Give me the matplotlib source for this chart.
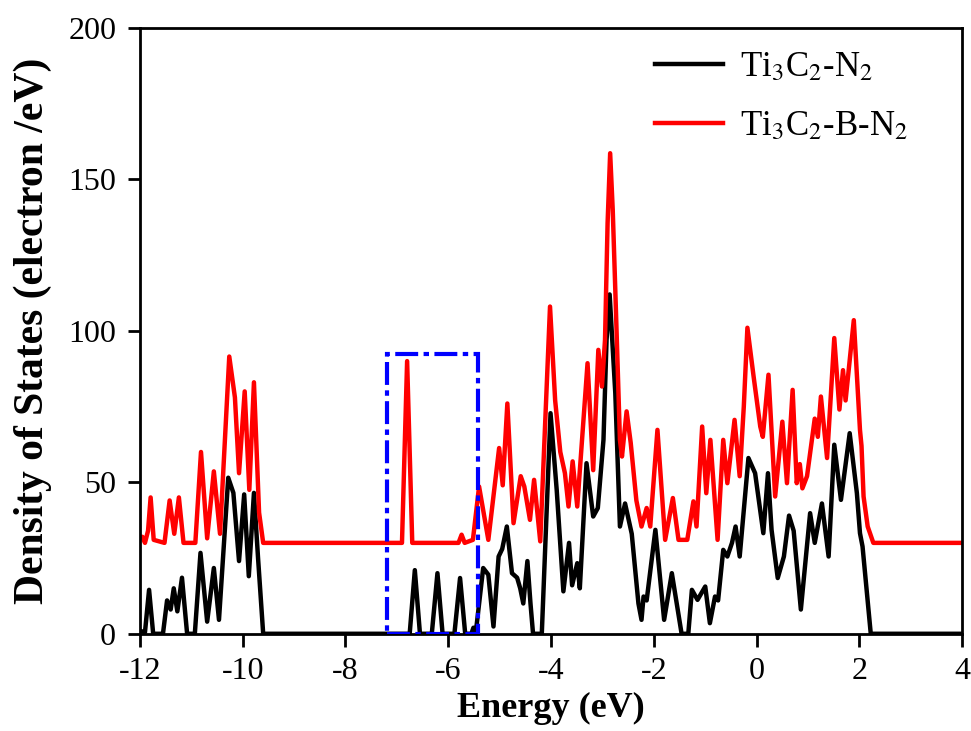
import matplotlib
matplotlib.use("Agg")
import matplotlib.pyplot as plt
from matplotlib.patches import Rectangle

# Ti3C2-N2 (black)
energy_n2 = [-12.0, -11.90, -11.82, -11.74, -11.55, -11.47, -11.40, -11.34, -11.27, -11.18,
             -11.08, -10.93, -10.82, -10.69, -10.56, -10.46, -10.28, -10.18, -10.07, -9.97,
             -9.88, -9.78, -9.70, -9.60, -6.75, -6.65, -6.55, -6.32, -6.21, -6.11,
             -5.88, -5.77, -5.67, -5.55, -5.51, -5.46, -5.32, -5.22, -5.12, -5.02,
             -4.95, -4.86, -4.76, -4.66, -4.60, -4.54, -4.46, -4.40, -4.35, -4.18,
             -4.01, -3.89, -3.76, -3.65, -3.59, -3.49, -3.44, -3.31, -3.18, -3.09,
             -2.98, -2.92, -2.86, -2.75, -2.66, -2.56, -2.43, -2.30, -2.24, -2.20,
             -2.14, -1.97, -1.80, -1.65, -1.46, -1.33, -1.26, -1.15, -1.00, -0.91,
             -0.81, -0.75, -0.65, -0.57, -0.48, -0.41, -0.33, -0.16, -0.03, 0.13,
             0.22, 0.29, 0.41, 0.53, 0.63, 0.72, 0.86, 1.04, 1.13, 1.27,
             1.40, 1.51, 1.64, 1.81, 1.95, 2.01, 2.06, 2.22, 4.0]
dos_n2 = [1, 0.5, 14.5, 0, 0, 11, 8, 15, 7.4, 18.5,
          0, 0, 26.7, 4, 21.7, 4.6, 51.5, 46.5, 24, 46,
          19, 46.5, 25, 0, 0, 21, 0, 0, 20, 0,
          0, 18.4, 0, 0, 2, 1, 21.7, 19.5, 2.4, 25.5,
          28, 35.4, 20, 18.5, 15, 10, 24, 10, 0, 0,
          72.8, 47.5, 14, 30, 16, 23.3, 15, 56.3, 38.7, 41.5,
          64, 97, 112, 79.4, 35.4, 43, 33, 10, 4.6, 12.3,
          11, 34.3, 4.6, 20, 0, 0, 14.5, 11.2, 15.6, 3.5,
          12.3, 11, 27.7, 25.5, 30, 35.4, 25.5, 58, 53, 33.2,
          53, 34.3, 18.4, 25.5, 39, 34, 8, 39.8, 30, 43,
          25.5, 62.4, 44.2, 66.2, 46.4, 33.2, 28.8, 0, 0]

# Ti3C2-B-N2 (red)
energy_bn2 = [-12.0, -11.95, -11.90, -11.84, -11.79, -11.73, -11.52, -11.42, -11.33, -11.24,
              -11.15, -10.92, -10.81, -10.69, -10.56, -10.44, -10.26, -10.15, -10.07, -9.96,
              -9.87, -9.78, -9.68, -9.60, -6.90, -6.80, -6.70, -5.80, -5.74, -5.68,
              -5.52, -5.40, -5.22, -5.01, -4.94, -4.85, -4.73, -4.59, -4.52, -4.41,
              -4.33, -4.21, -4.02, -3.92, -3.82, -3.73, -3.66, -3.58, -3.49, -3.29,
              -3.18, -3.08, -3.01, -2.95, -2.90, -2.85, -2.80, -2.75, -2.66, -2.62,
              -2.53, -2.45, -2.34, -2.24, -2.14, -2.07, -1.93, -1.78, -1.63, -1.52,
              -1.35, -1.23, -1.17, -1.06, -0.98, -0.90, -0.76, -0.65, -0.57, -0.43,
              -0.33, -0.25, -0.18, -0.06, 0.07, 0.12, 0.23, 0.36, 0.50, 0.59,
              0.70, 0.78, 0.84, 0.89, 0.98, 1.13, 1.19, 1.25, 1.37, 1.51,
              1.61, 1.68, 1.73, 1.89, 2.01, 2.04, 2.08, 2.16, 2.27, 4.0]
dos_bn2 = [32, 32, 30, 34, 45, 31, 30, 44, 33, 45,
           30, 30, 60, 31.5, 53.6, 33, 91.5, 78, 53, 80,
           47.5, 83, 40, 30, 30, 90, 30, 30, 32.7, 30,
           31, 48.6, 31, 61.3, 49, 76, 36.5, 52, 48.6, 37.6,
           50.8, 30.5, 108, 77, 60, 53, 42, 56.9, 42, 89.3,
           54, 93.7, 81.6, 97, 135.5, 158.6, 140, 113.5, 64, 58.5,
           73.4, 63, 44, 35.4, 41.5, 35.4, 67.3, 31, 44.8, 31,
           31, 43.7, 35.4, 68.4, 46.4, 64, 31, 64, 49.7, 70.6,
           52, 75, 101, 85, 68.4, 65, 85.5, 45.3, 70, 49.7,
           80.5, 49.7, 56, 48, 52, 71, 65, 78.3, 58, 97.6,
           74, 87, 77, 103.5, 67.3, 62, 45.3, 35.4, 30, 30]

plt.rcParams["font.family"] = ["Liberation Serif", "DejaVu Serif"]
plt.rcParams["mathtext.fontset"] = "stix"
plt.rcParams["axes.unicode_minus"] = False

fig = plt.figure(figsize=(9.71, 7.31), dpi=100)
ax = fig.add_axes([0.144, 0.133, 0.847, 0.829])

ax.plot(energy_n2, dos_n2, color="black", lw=3.2, solid_joinstyle="round",
        label=r"Ti$_3$C$_2$-N$_2$")
ax.plot(energy_bn2, dos_bn2, color="red", lw=3.2, solid_joinstyle="round",
        label=r"Ti$_3$C$_2$-B-N$_2$")

# highlighted region
ax.add_patch(Rectangle((-7.2, 0), 1.77, 92.5, fill=False, edgecolor="blue",
                       lw=3, linestyle=(0, (5.5, 1.3, 1.3, 1.3)), zorder=3))

ax.set_xlim(-12, 4)
ax.set_ylim(0, 200)
ax.set_xticks(range(-12, 5, 2))
ax.set_yticks(range(0, 201, 50))
ax.tick_params(direction="out", length=9, width=2, pad=8, labelsize=23)
for s in ax.spines.values():
    s.set_linewidth(2)

ax.set_xlabel("Energy (eV)", fontsize=26, fontweight="bold", labelpad=4)
ax.set_ylabel("Density of States (electron /eV)", fontsize=30, fontweight="bold", labelpad=12)

ax.legend(loc="upper left", bbox_to_anchor=(0.61, 0.985), borderaxespad=0,
          frameon=False, fontsize=25, handlelength=1.95, handletextpad=0.5,
          labelspacing=0.75)

fig.savefig("out.png", dpi=100)
